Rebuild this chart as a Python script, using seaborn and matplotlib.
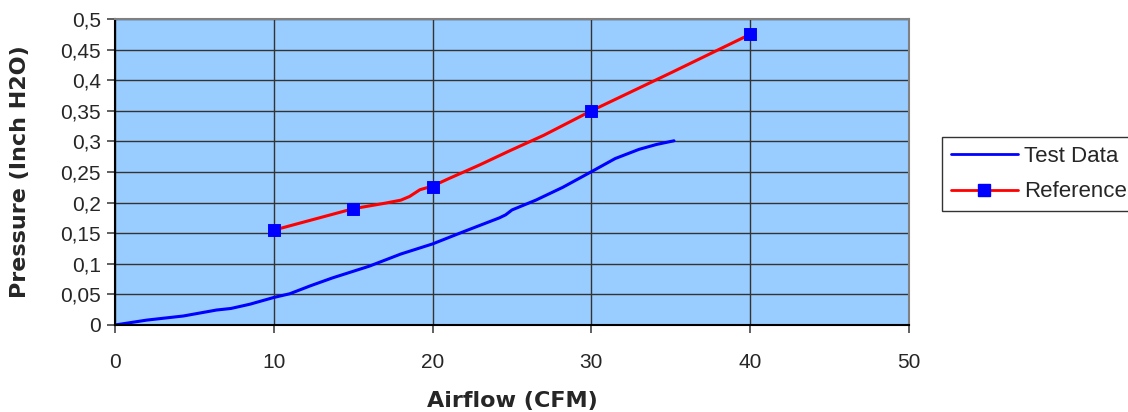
import numpy as np
import pandas as pd
import matplotlib
matplotlib.use('Agg')
import matplotlib.pyplot as plt
from matplotlib.lines import Line2D
import seaborn as sns

# test data curve (airflow CFM, pressure inch H2O)
test_x = [0, 2, 4.3, 6.4, 7.3, 8.5, 10, 11, 12.3, 13.7, 16, 18, 20, 22, 24.2, 24.6, 25, 26.5, 28.2, 30, 31.5, 33, 34.1, 35.2]
test_y = [0, 0.008, 0.0147, 0.0245, 0.027, 0.034, 0.045, 0.051, 0.064, 0.077, 0.096, 0.116, 0.1325, 0.153, 0.175, 0.18, 0.188, 0.204, 0.225, 0.2505, 0.272, 0.287, 0.295, 0.301]

# reference curve
ref_x = [10, 15, 17, 18, 18.55, 19.2, 20, 21, 22.1, 23, 24.8, 27, 30, 35, 40]
ref_y = [0.155, 0.19, 0.199, 0.204, 0.21, 0.221, 0.227, 0.239, 0.2516, 0.262, 0.284, 0.31, 0.35, 0.412, 0.475]
# points that carry a marker
mark_x = [10, 15, 20, 30, 40]
mark_y = [0.155, 0.19, 0.226, 0.35, 0.475]

xticks = [0, 10, 20, 30, 40, 50]
yticks = [0, 0.05, 0.1, 0.15, 0.2, 0.25, 0.3, 0.35, 0.4, 0.45, 0.5]
ytick_labels = ['0', '0,05', '0,1', '0,15', '0,2', '0,25', '0,3', '0,35', '0,4', '0,45', '0,5']

sns.set_style('ticks')
plt.rcParams['font.family'] = ['Liberation Sans', 'DejaVu Sans']

fig = plt.figure(figsize=(11.28, 4.12), dpi=100)
ax = fig.add_axes([115 / 1128, 87 / 412, 794 / 1128, 306 / 412])
ax.set_facecolor('#99ccff')

sns.lineplot(x=test_x, y=test_y, ax=ax, color='#0000ff', lw=2.2, sort=False, estimator=None)
sns.lineplot(x=ref_x, y=ref_y, ax=ax, color='#ff0000', lw=2.2, sort=False, estimator=None)
sns.scatterplot(x=mark_x, y=mark_y, ax=ax, color='#0000ff', marker='s', s=70, edgecolor='#0000ff', zorder=5)

ax.set_xlim(0, 50)
ax.set_ylim(0, 0.5)
ax.set_xticks(xticks)
ax.set_xticklabels([str(t) for t in xticks], fontsize=15)
ax.set_yticks(yticks)
ax.set_yticklabels(ytick_labels, fontsize=15)
ax.grid(True, color='#333333', lw=1.0)
ax.set_axisbelow(True)
ax.tick_params(axis='both', length=6, width=1.2, color='#444444', pad=4)
ax.tick_params(axis='x', pad=14)

for s in ['top', 'right']:
    ax.spines[s].set_visible(True)
    ax.spines[s].set_color('#808080')
    ax.spines[s].set_linewidth(1.5)
for s in ['left', 'bottom']:
    ax.spines[s].set_color('#000000')
    ax.spines[s].set_linewidth(1.5)

ax.set_xlabel('Airflow (CFM)', fontsize=16, fontweight='bold', family='DejaVu Sans', labelpad=14)
ax.set_ylabel('Pressure (Inch H2O)', fontsize=16, fontweight='bold', family='DejaVu Sans', labelpad=22)

handles = [
    Line2D([], [], color='#0000ff', lw=2),
    Line2D([], [], color='#ff0000', lw=2, marker='s', markersize=8,
           markerfacecolor='#0000ff', markeredgecolor='#0000ff'),
]
leg = fig.legend(handles, ['Test Data', 'Reference'], loc='upper left',
                 bbox_to_anchor=(942 / 1128, 1 - 137 / 412), fontsize=16,
                 frameon=True, fancybox=False, handlelength=3.0,
                 borderpad=0.4, labelspacing=0.65, handletextpad=0.3, borderaxespad=0)
leg.get_frame().set_edgecolor('#000000')
leg.get_frame().set_linewidth(1.0)

fig.savefig('out.png', dpi=100)
